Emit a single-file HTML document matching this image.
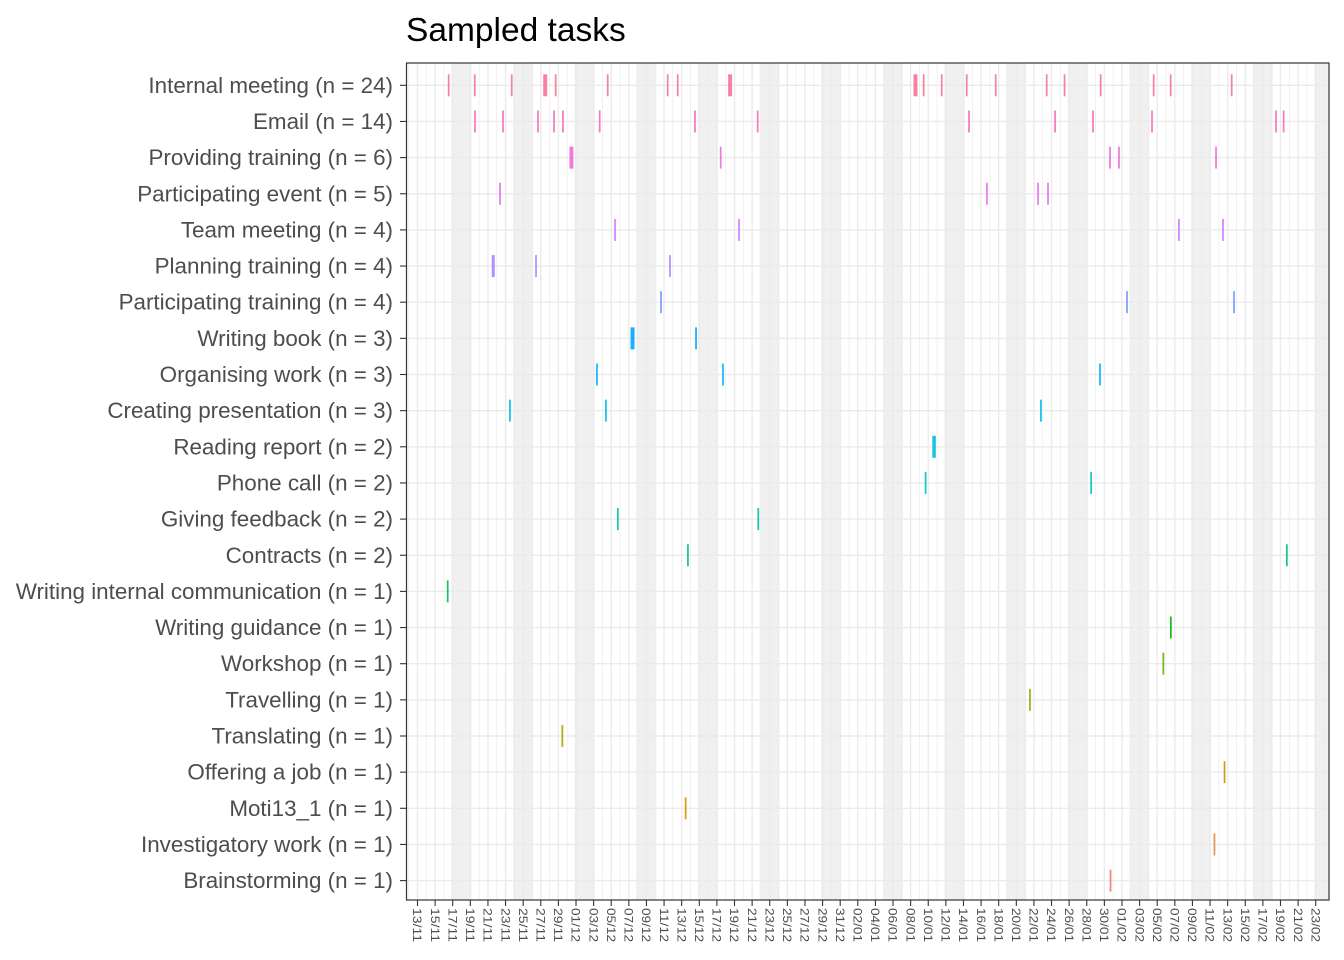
<!DOCTYPE html>
<html><head><meta charset="utf-8"><style>
html,body{margin:0;padding:0;background:#fff;}
svg{display:block;font-family:"Liberation Sans",Arial,sans-serif;}
</style></head><body>
<svg id="chart" width="1344" height="960" viewBox="0 0 1344 960">
<text x="406" y="41" font-size="33.5" fill="#000">Sampled tasks</text>
<g id="bands"></g><g id="grid"></g><g id="marks"></g><g id="axes"></g>
</svg>
<script>
const categories = ["Internal meeting (n = 24)","Email (n = 14)","Providing training (n = 6)","Participating event (n = 5)","Team meeting (n = 4)","Planning training (n = 4)","Participating training (n = 4)","Writing book (n = 3)","Organising work (n = 3)","Creating presentation (n = 3)","Reading report (n = 2)","Phone call (n = 2)","Giving feedback (n = 2)","Contracts (n = 2)","Writing internal communication (n = 1)","Writing guidance (n = 1)","Workshop (n = 1)","Travelling (n = 1)","Translating (n = 1)","Offering a job (n = 1)","Moti13_1 (n = 1)","Investigatory work (n = 1)","Brainstorming (n = 1)"];
// event start, in days since 13/11
const eventDays = [
 [3.54,6.50,10.70,14.50,15.69,21.60,28.41,29.55,35.50,56.55,57.48,59.53,62.37,65.66,71.45,73.48,77.58,83.60,85.53,92.46],
 [6.53,9.71,13.68,15.50,16.52,20.69,31.51,38.63,62.63,72.40,76.71,83.41,97.49,98.36],
 [17.48,34.43,78.64,79.66,90.68],
 [9.37,64.67,70.47,71.60],
 [22.43,36.51,86.47,91.47],
 [8.60,13.46,28.67],
 [27.65,80.57,92.72],
 [24.42,31.63],
 [20.38,34.69,77.50],
 [10.50,21.40,70.80],
 [58.66],
 [57.70,76.50],
 [22.75,38.70],
 [30.71,98.72],
 [3.43],
 [85.55],
 [84.70],
 [69.55],
 [16.45],
 [91.65],
 [30.45],
 [90.50],
 [78.70]
];
// event durations in days
const eventDur = [
 [0.2,0.2,0.2,0.45,0.2,0.2,0.2,0.2,0.45,0.45,0.2,0.2,0.2,0.2,0.2,0.2,0.2,0.2,0.2,0.2],
 [0.2,0.2,0.2,0.2,0.2,0.2,0.2,0.2,0.2,0.2,0.2,0.2,0.2,0.2],
 [0.45,0.2,0.2,0.2,0.2],
 [0.2,0.2,0.2,0.2],
 [0.2,0.2,0.2,0.2],
 [0.35,0.2,0.2],
 [0.2,0.2,0.2],
 [0.45,0.2],
 [0.2,0.2,0.2],
 [0.2,0.2,0.2],
 [0.4],
 [0.2,0.2],
 [0.2,0.2],
 [0.2,0.2],
 [0.2],[0.2],[0.2],[0.2],[0.2],[0.2],[0.2],[0.2],[0.2]
];
const tickLabels = ["13/11","15/11","17/11","19/11","21/11","23/11","25/11","27/11","29/11","01/12","03/12","05/12","07/12","09/12","11/12","13/12","15/12","17/12","19/12","21/12","23/12","25/12","27/12","29/12","31/12","02/01","04/01","06/01","08/01","10/01","12/01","14/01","16/01","18/01","20/01","22/01","24/01","26/01","28/01","30/01","01/02","03/02","05/02","07/02","09/02","11/02","13/02","15/02","17/02","19/02","21/02","23/02"];

const NS="http://www.w3.org/2000/svg";
const L=406.5,R=1329,T=63,B=900;
const xScale=d=>417.5+d*8.806;
const yScale=i=>85.3+i*36.15;
function mk(tag,attrs,parent){const e=document.createElementNS(NS,tag);for(const k in attrs)e.setAttribute(k,attrs[k]);parent.appendChild(e);return e;}
function hcl(h){const Lh=65,C=100;const hr=h*Math.PI/180;const Y=Math.pow((Lh+16)/116,3);const u=C*Math.cos(hr),v=C*Math.sin(hr);
 const up=u/(13*Lh)+0.1978398,vp=v/(13*Lh)+0.4683363;const X=Y*9*up/(4*vp),Z=Y*(12-3*up-20*vp)/(4*vp);const Xn=X*0.95047,Zn=Z*1.08883;
 let r=3.2404542*Xn-1.5371385*Y-0.4985314*Zn,g=-0.9692660*Xn+1.8760108*Y+0.0415560*Zn,b=0.0556434*Xn-0.2040259*Y+1.0572252*Zn;
 const gm=c=>{c=c<=0.0031308?12.92*c:1.055*Math.pow(c,1/2.4)-0.055;return Math.round(Math.max(0,Math.min(1,c))*255);};
 return `rgb(${gm(r)},${gm(g)},${gm(b)})`;}
const n=categories.length;
const bands=document.getElementById('bands'),grid=document.getElementById('grid'),marks=document.getElementById('marks'),axes=document.getElementById('axes');
mk('rect',{x:L,y:T,width:R-L,height:B-T,fill:'#fff'},bands);
for(let s=3.85;s<104;s+=7){const x0=Math.max(L,xScale(s)),x1=Math.min(R,xScale(s+2.27));if(x1<=x0)continue;
 const r=mk('rect',{x:x0,y:T,width:x1-x0,height:B-T,fill:'#f0f0f0'},bands);
 
 }
for(let d=-1;d<=103;d++){const x=xScale(d);if(x<L||x>R)continue;mk('line',{x1:x,x2:x,y1:T,y2:B,stroke:'#ebebeb','stroke-width':d%2===0?1.4:0.7},grid);}
for(let i=0;i<n;i++){const y=yScale(i);mk('line',{x1:L,x2:R,y1:y,y2:y,stroke:'#ebebeb','stroke-width':1.4},grid);}
for(let i=0;i<n;i++){const col=hcl(15+(n-1-i)*360/n);
 eventDays[i].forEach((d,j)=>{const x0=xScale(d),w=Math.max(1.6,eventDur[i][j]*8.806);
  const r=mk('rect',{x:x0-w/2,y:yScale(i)-11,width:w,height:22,fill:col,'fill-opacity':0.9},marks);
  
  });
 const lab=mk('text',{x:393,y:yScale(i)+7.5,'text-anchor':'end','font-size':22.4,fill:'#4d4d4d'},axes);lab.textContent=categories[i];
 
 
 mk('line',{x1:400,x2:406.5,y1:yScale(i),y2:yScale(i),stroke:'#333','stroke-width':1.1},axes);}
mk('rect',{x:L,y:T,width:R-L,height:B-T,fill:'none',stroke:'#333','stroke-width':1.2},axes);
tickLabels.forEach((t,k)=>{const x=xScale(k*2);mk('line',{x1:x,x2:x,y1:B,y2:B+6,stroke:'#333','stroke-width':1.1},axes);
 const tx=mk('text',{x:0,y:0,'font-size':12,textLength:34,lengthAdjust:'spacingAndGlyphs',fill:'#4d4d4d',transform:`translate(${x-4.3},${B+8}) rotate(90)`},axes);tx.textContent=t;
 
 });
</script>
</body></html>
